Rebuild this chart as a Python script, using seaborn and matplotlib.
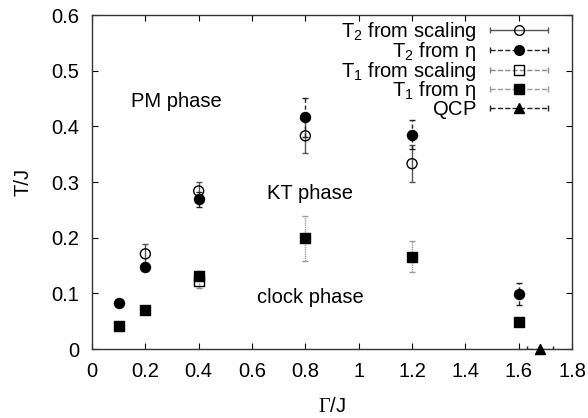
import matplotlib
matplotlib.use("Agg")
import matplotlib.pyplot as plt
import seaborn as sns
import pandas as pd
from matplotlib.lines import Line2D
from matplotlib.legend_handler import HandlerBase

# ── Data ─────────────────────────────────────────────────────────────────────
t2_scal_x = [0.2, 0.4, 0.8, 1.2]
t2_scal_y = [0.171, 0.284, 0.383, 0.333]
t2_scal_e = [0.018, 0.016, 0.030, 0.033]

t2_eta_x = [0.1, 0.2, 0.4, 0.8, 1.2, 1.6]
t2_eta_y = [0.083, 0.148, 0.269, 0.416, 0.385, 0.099]
t2_eta_e = [0.0, 0.0, 0.014, 0.035, 0.026, 0.020]

t1_scal_x = [0.4]
t1_scal_y = [0.123]
t1_scal_e = [0.013]

t1_eta_x = [0.1, 0.2, 0.4, 0.8, 1.2, 1.6]
t1_eta_y = [0.041, 0.071, 0.132, 0.199, 0.166, 0.049]
t1_eta_e = [0.0, 0.0, 0.008, 0.040, 0.028, 0.0]

qcp_x = [1.68]
qcp_y = [0.0]
qcp_xe = [0.05]

# the empty subscript on QCP only keeps the legend rows evenly spaced
labels = [r"T$_\mathsf{2}$ from scaling", r"T$_\mathsf{2}$ from η",
          r"T$_\mathsf{1}$ from scaling", r"T$_\mathsf{1}$ from η",
          r"QCP$_\mathsf{\ }$"]
xtick_labels = ["0", "0.2", "0.4", "0.6", "0.8", "1", "1.2", "1.4", "1.6", "1.8"]
ytick_labels = ["0", "0.1", "0.2", "0.3", "0.4", "0.5", "0.6"]

FS = 14.5

# ── Style ────────────────────────────────────────────────────────────────────
sns.set_theme(style="ticks")
plt.rcParams["font.family"] = ["Liberation Sans", "DejaVu Sans"]
plt.rcParams["mathtext.fontset"] = "custom"
plt.rcParams["mathtext.rm"] = "Liberation Serif"
plt.rcParams["mathtext.sf"] = "Liberation Sans"
plt.rcParams["mathtext.it"] = "Liberation Sans"
plt.rcParams["text.color"] = "black"
plt.rcParams["axes.labelcolor"] = "black"

series = [
    # x, y, yerr, xerr, marker, face, linestyle, errcolor
    (t2_scal_x, t2_scal_y, t2_scal_e, None, "o", "none", "-", "#555555"),
    (t2_eta_x, t2_eta_y, t2_eta_e, None, "o", "black", (0, (3, 2)), "#222222"),
    (t1_scal_x, t1_scal_y, t1_scal_e, None, "s", "none", (0, (1, 1.5)), "#888888"),
    (t1_eta_x, t1_eta_y, t1_eta_e, None, "s", "black", (0, (1, 0.6)), "#999999"),
    (qcp_x, qcp_y, None, qcp_xe, "^", "black", (0, (4, 2, 1, 2)), "#222222"),
]

fig = plt.figure(figsize=(5.88, 4.18), dpi=100)
ax = fig.add_axes([0.1565, 0.165, 0.8163, 0.799])

handles = []
for x, y, ye, xe, mk, fc, ls, ec in series:
    eb = ax.errorbar(x, y, yerr=ye, xerr=xe, fmt="none", ecolor=ec,
                     elinewidth=1.0, capsize=2.5, capthick=1.0, zorder=2)
    for lc in eb[2]:
        lc.set_linestyle(ls)
    df = pd.DataFrame({"x": x, "y": y})
    sns.scatterplot(data=df, x="x", y="y", ax=ax, marker=mk, s=52,
                    facecolor=fc, edgecolor="black", linewidth=1.0,
                    zorder=3, clip_on=False)
    handles.append(Line2D([], [], color=ec, ls=ls, marker=mk,
                          markerfacecolor=fc, markeredgecolor="black",
                          markersize=7))


class CapHandler(HandlerBase):
    def create_artists(self, legend, orig, xd, yd, w, h, fontsize, trans):
        yc = h / 2 - yd
        line = Line2D([-xd, w - xd], [yc, yc], color=orig.get_color(),
                      ls=orig.get_linestyle(), lw=1.0)
        caps = Line2D([-xd, w - xd], [yc, yc], ls="none", marker="|",
                      markersize=4, color=orig.get_color())
        mk = Line2D([w / 2 - xd], [yc], ls="none", marker=orig.get_marker(),
                    markerfacecolor=orig.get_markerfacecolor(),
                    markeredgecolor="black", markersize=7)
        for a in (line, caps, mk):
            a.set_transform(trans)
        return [line, caps, mk]


ax.legend(handles, labels, handler_map={Line2D: CapHandler()},
          loc="upper right", bbox_to_anchor=(0.95, 0.985), frameon=False,
          markerfirst=False, fontsize=FS, handlelength=2.9,
          handletextpad=0.65, labelspacing=-0.16, borderaxespad=0,
          borderpad=0)

ax.text(0.315, 0.445, "PM phase", ha="center", va="center", fontsize=FS)
ax.text(0.817, 0.279, "KT phase", ha="center", va="center", fontsize=FS)
ax.text(0.82, 0.092, "clock phase", ha="center", va="center", fontsize=FS)

ax.set_xlim(0, 1.8)
ax.set_ylim(0, 0.6)
ax.set_xticks([0, 0.2, 0.4, 0.6, 0.8, 1, 1.2, 1.4, 1.6, 1.8])
ax.set_xticklabels(xtick_labels)
ax.set_yticks([0, 0.1, 0.2, 0.3, 0.4, 0.5, 0.6])
ax.set_yticklabels(ytick_labels)
ax.tick_params(direction="in", top=True, right=True, length=4, width=0.8,
               labelsize=FS, colors="black", pad=9)
for sp in ax.spines.values():
    sp.set_color("#333333")
    sp.set_linewidth(1.0)

ax.set_xlabel(r"$\Gamma\mathsf{/J}$", fontsize=FS, labelpad=12)
ax.set_ylabel("T/J", fontsize=FS, labelpad=14)

fig.savefig("out.png", dpi=100)
